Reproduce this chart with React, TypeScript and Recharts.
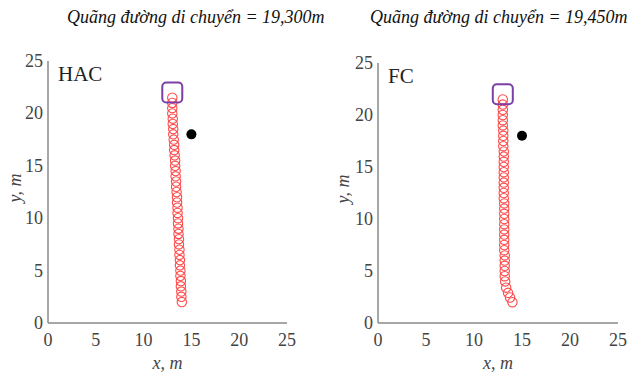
import { ScatterChart, Scatter, XAxis, YAxis, Label } from 'recharts';

const axisTicks = [0, 5, 10, 15, 20, 25];

// HAC trajectory, top to bottom
const hacX = [13.0, 13.0, 13.0, 13.0, 13.05, 13.05, 13.1, 13.1, 13.15, 13.2, 13.2, 13.25, 13.3, 13.3, 13.35, 13.35, 13.4, 13.4, 13.45, 13.5, 13.5, 13.55, 13.55, 13.6, 13.6, 13.65, 13.65, 13.7, 13.7, 13.75, 13.75, 13.8, 13.8, 13.85, 13.85, 13.9, 13.9, 13.95, 13.95, 14.0];
const hacY = [21.5, 21, 20.5, 20, 19.5, 19, 18.5, 18, 17.5, 17, 16.5, 16, 15.5, 15, 14.5, 14, 13.5, 13, 12.5, 12, 11.5, 11, 10.5, 10, 9.5, 9, 8.5, 8, 7.5, 7, 6.5, 6, 5.5, 5, 4.5, 4, 3.5, 3, 2.5, 2];

// FC trajectory, top to bottom
const fcX = [13.0, 13.0, 13.0, 13.0, 13.0, 13.0, 13.05, 13.05, 13.05, 13.05, 13.1, 13.1, 13.1, 13.1, 13.1, 13.1, 13.1, 13.1, 13.1, 13.1, 13.15, 13.15, 13.15, 13.15, 13.15, 13.15, 13.15, 13.15, 13.15, 13.15, 13.2, 13.2, 13.2, 13.2, 13.2, 13.25, 13.35, 13.55, 13.75, 14.0];
const fcY = [21.5, 21, 20.5, 20, 19.5, 19, 18.5, 18, 17.5, 17, 16.5, 16, 15.5, 15, 14.5, 14, 13.5, 13, 12.5, 12, 11.5, 11, 10.5, 10, 9.5, 9, 8.5, 8, 7.5, 7, 6.5, 6, 5.5, 5, 4.5, 4, 3.4, 2.9, 2.45, 2.0];

const startPoint = [{ x: 13, y: 22 }];
const targetPoint = [{ x: 15, y: 18 }];

const serif = 'Liberation Serif, serif';

const RedRing = (props: any) => (
  <circle cx={props.cx} cy={props.cy} r={4.7} fill="none" stroke="#ff4a4a" strokeWidth={1.1} />
);

const StartBox = (props: any) => (
  <rect x={props.cx - 10} y={props.cy - 10} width={20} height={20} rx={4} fill="none" stroke="#7b3fa6" strokeWidth={2} />
);

const TargetDot = (props: any) => <circle cx={props.cx} cy={props.cy} r={5} fill="#000" />;

const XTick = ({ x, y, payload }: any) => (
  <text x={x} y={y + 15} textAnchor="middle" fontFamily={serif} fontSize={18} fill="#444">
    {payload.value}
  </text>
);

const YTick = ({ x, y, payload }: any) => (
  <text x={x + 3} y={y + 6} textAnchor="end" fontFamily={serif} fontSize={18} fill="#444">
    {payload.value}
  </text>
);

function Panel({ left, title, titleLeft, tag, xs, ys, yAxisWidth, marginRight, marginTop, yLabelX }: any) {
  const path = xs.map((x: number, i: number) => ({ x, y: ys[i] }));
  return (
    <div style={{ position: 'absolute', left, top: 0, width: 319, height: 376 }}>
      <div
        style={{
          position: 'absolute',
          left: titleLeft,
          top: 7,
          fontFamily: serif,
          fontStyle: 'italic',
          fontSize: 18,
          color: '#111',
          whiteSpace: 'nowrap',
        }}
      >
        {title}
      </div>
      <ScatterChart width={319} height={376} margin={{ top: marginTop, right: marginRight, bottom: 3, left: 0 }}>
        <XAxis
          type="number"
          dataKey="x"
          domain={[0, 25]}
          ticks={axisTicks}
          tickLine={false}
          axisLine={{ stroke: '#8a8a8a', strokeWidth: 1.5 }}
          tick={XTick}
          height={50}
        >
          <Label
            content={({ viewBox }: any) => (
              <text
                x={viewBox.x + viewBox.width / 2}
                y={viewBox.y + 46}
                textAnchor="middle"
                fontFamily={serif}
                fontStyle="italic"
                fontSize={18}
                fill="#444"
              >
                x, m
              </text>
            )}
          />
        </XAxis>
        <YAxis
          type="number"
          dataKey="y"
          domain={[0, 25]}
          ticks={axisTicks}
          tickLine={false}
          axisLine={{ stroke: '#8a8a8a', strokeWidth: 1.5 }}
          tick={YTick}
          width={yAxisWidth}
        >
          <Label
            content={({ viewBox }: any) => {
              const cx = viewBox.x + yLabelX;
              const cy = viewBox.y + viewBox.height / 2 - 4;
              return (
                <text
                  x={cx}
                  y={cy}
                  transform={`rotate(-90 ${cx} ${cy})`}
                  textAnchor="middle"
                  dominantBaseline="central"
                  fontFamily={serif}
                  fontStyle="italic"
                  fontSize={18}
                  fill="#444"
                >
                  y, m
                </text>
              );
            }}
          />
        </YAxis>
        <Scatter data={path} shape={RedRing} isAnimationActive={false} />
        <Scatter data={startPoint} shape={StartBox} isAnimationActive={false} />
        <Scatter data={targetPoint} shape={TargetDot} isAnimationActive={false} />
      </ScatterChart>
      <div
        style={{
          position: 'absolute',
          left: yAxisWidth + 10,
          top: marginTop + 1,
          fontFamily: serif,
          fontSize: 21,
          color: '#222',
        }}
      >
        {tag}
      </div>
    </div>
  );
}

export default function App() {
  return (
    <div style={{ position: 'absolute', left: 0, top: 0, width: 638, height: 376, background: '#fff' }}>
      <Panel
        left={0}
        title="Quãng đường di chuyển = 19,300m"
        titleLeft={67}
        tag="HAC"
        xs={hacX}
        ys={hacY}
        yAxisWidth={48}
        marginRight={32}
        marginTop={61}
        yLabelX={15}
      />
      <Panel
        left={319}
        title="Quãng đường di chuyển = 19,450m"
        titleLeft={51}
        tag="FC"
        xs={fcX}
        ys={fcY}
        yAxisWidth={59}
        marginRight={20}
        marginTop={63}
        yLabelX={24}
      />
    </div>
  );
}
